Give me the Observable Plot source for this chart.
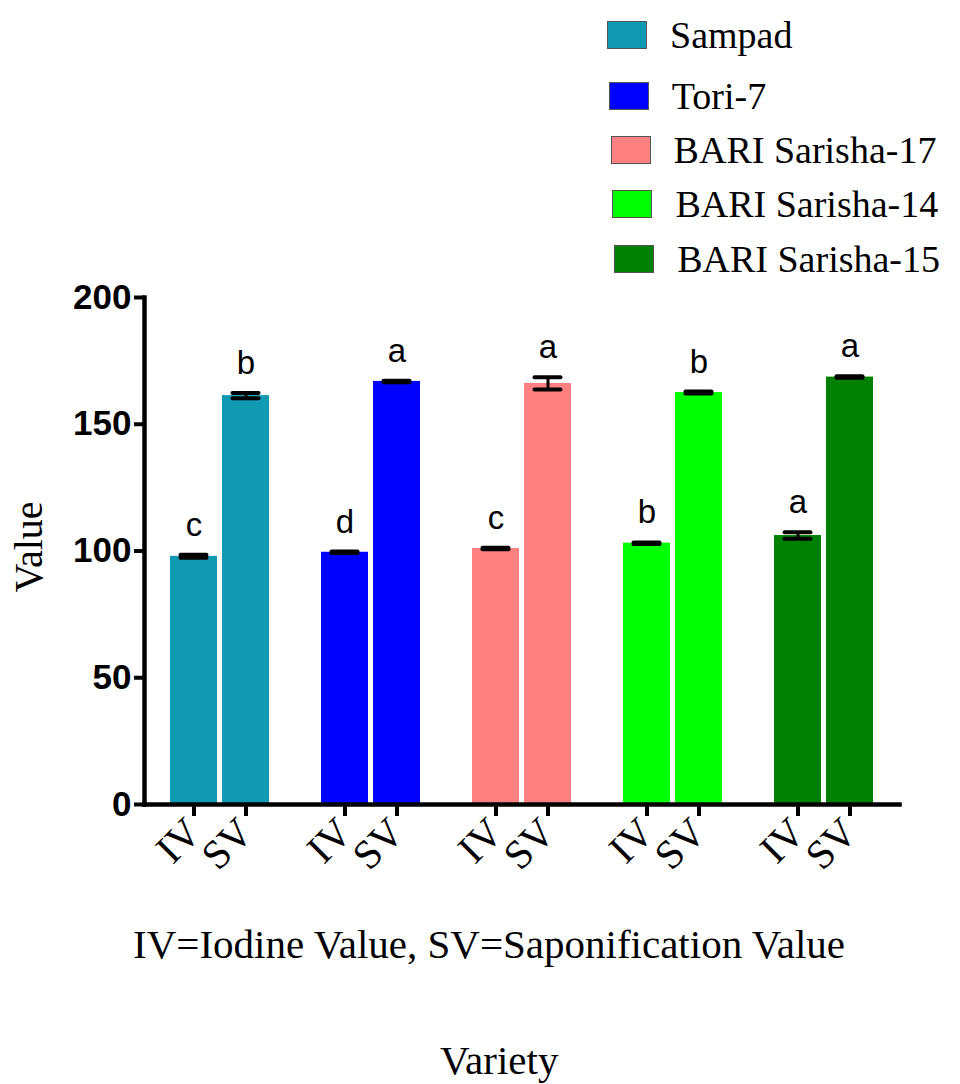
<!DOCTYPE html>
<html>
<head>
<meta charset="utf-8">
<script src="https://cdn.jsdelivr.net/npm/d3@7"></script>
<script src="https://cdn.jsdelivr.net/npm/@observablehq/plot@0.6"></script>
<style>
  html, body { margin: 0; padding: 0; background: #fff; }
  #wrap { position: relative; width: 960px; height: 1084px; overflow: hidden; color: #000; }
  #chart { position: absolute; left: 0; top: 0; }
  .legend { position: absolute; left: 0; top: 0; }
  .litem { position: absolute; display: flex; align-items: center; }
  .sw { width: 40px; height: 28px; box-sizing: border-box; border: 1px solid #555; }
  .lt { font-family: 'Liberation Serif', 'Times New Roman', Times, serif; font-size: 38px; margin-left: 23px; line-height: 1; white-space: nowrap; }
  .caption { position: absolute; font-family: 'Liberation Serif', 'Times New Roman', Times, serif; font-size: 41px; white-space: nowrap; line-height: 1; }
  .ytitle { position: absolute; font-family: 'Liberation Serif', 'Times New Roman', Times, serif; font-size: 40px; line-height: 1; white-space: nowrap; transform: translate(-50%, -50%) rotate(-90deg); }
</style>
</head>
<body>
<div id="wrap">
  <div id="chart"></div>
  <div class="legend" id="legend"></div>
  <div class="caption" id="cap1" style="left:133px; top:924px;"></div>
  <div class="caption" id="cap2" style="left:440px; top:1040px;"></div>
  <div class="ytitle" id="ytitle" style="left:29px; top:547px;"></div>
</div>
<script>
// ---- data ----
const varieties = ["Sampad", "Tori-7", "BARI Sarisha-17", "BARI Sarisha-14", "BARI Sarisha-15"];
const types = ["IV", "SV"];
const ivMeans = [97.9, 99.5, 101.0, 103.1, 106.1];
const ivErr = [0.6, 0.3, 0.3, 0.3, 1.3];
const ivLetters = ["c", "d", "c", "b", "a"];
const svMeans = [161.3, 166.9, 166.1, 162.5, 168.6];
const svErr = [1.0, 0.3, 2.4, 0.4, 0.3];
const svLetters = ["b", "a", "a", "b", "a"];
const colors = ["#1199b4", "#0000ff", "#ff8080", "#00ff00", "#008000"];
const yTicks = [0, 50, 100, 150, 200];
const captionText = "IV=Iodine Value, SV=Saponification Value";
const xTitle = "Variety";
const yTitle = "Value";

// ---- table ----
const rows = [];
varieties.forEach((v, i) => {
  rows.push({variety: v, type: "IV", mean: ivMeans[i], err: ivErr[i], letter: ivLetters[i]});
  rows.push({variety: v, type: "SV", mean: svMeans[i], err: svErr[i], letter: svLetters[i]});
});

const W = 960, H = 900;
const serif = "'Liberation Serif', 'Times New Roman', serif";
const sans = "'Liberation Sans', Arial, sans-serif";

const plot = Plot.plot({
  width: W,
  height: H,
  marginTop: 297,
  marginBottom: H - 804,
  marginLeft: 143,
  marginRight: 60,
  style: {background: "#fff", color: "#000", overflow: "visible"},
  fx: {domain: varieties, padding: 0, axis: null},
  x: {domain: types, paddingInner: 0.096, paddingOuter: 0.48, axis: null},
  y: {domain: [0, 200], axis: null},
  color: {domain: varieties, range: colors},
  marks: [
    Plot.barY(rows, {fx: "variety", x: "type", y: "mean", fill: "variety"}),
    Plot.ruleX(rows, {fx: "variety", x: "type", y1: d => d.mean - d.err, y2: d => d.mean + d.err, stroke: "#000", strokeWidth: 3}),
    Plot.tickY(rows, {fx: "variety", x: "type", y: d => d.mean + d.err, stroke: "#000", strokeWidth: 4, insetLeft: 10.5, insetRight: 10.5, strokeLinecap: "round"}),
    Plot.tickY(rows, {fx: "variety", x: "type", y: d => d.mean - d.err, stroke: "#000", strokeWidth: 4, insetLeft: 10.5, insetRight: 10.5, strokeLinecap: "round"}),
    Plot.text(rows, {fx: "variety", x: "type", y: d => d.mean + d.err, text: "letter", lineAnchor: "bottom", dy: -19, fontSize: 33, fontFamily: sans, fill: "#000"}),
    Plot.axisY({ticks: yTicks, tickSize: 10, tickPadding: 3, strokeWidth: 4, fontSize: 35, fontWeight: "bold", fontFamily: sans, label: null}),
    Plot.axisX({tickSize: 12, strokeWidth: 4, tickRotate: -45, fontSize: 41, fontFamily: serif, tickPadding: 9, label: null}),
    Plot.frame({anchor: "left", facet: "super", strokeWidth: 4.5}),
    Plot.frame({anchor: "bottom", facet: "super", strokeWidth: 4.5})
  ]
});
document.getElementById("chart").appendChild(plot);

// ---- legend ----
const leg = document.getElementById("legend");
const rowTops = [16, 77, 131, 185, 240];
varieties.forEach((v, i) => {
  const item = document.createElement("div");
  item.className = "litem";
  item.style.left = (607 + i * 1.8) + "px";
  item.style.top = rowTops[i] + "px";
  const sw = document.createElement("div");
  sw.className = "sw";
  sw.style.background = colors[i];
  const t = document.createElement("div");
  t.className = "lt";
  t.textContent = v;
  item.appendChild(sw);
  item.appendChild(t);
  leg.appendChild(item);
});
document.getElementById("cap1").textContent = captionText;
document.getElementById("cap2").textContent = xTitle;
document.getElementById("ytitle").textContent = yTitle;
</script>
</body>
</html>
